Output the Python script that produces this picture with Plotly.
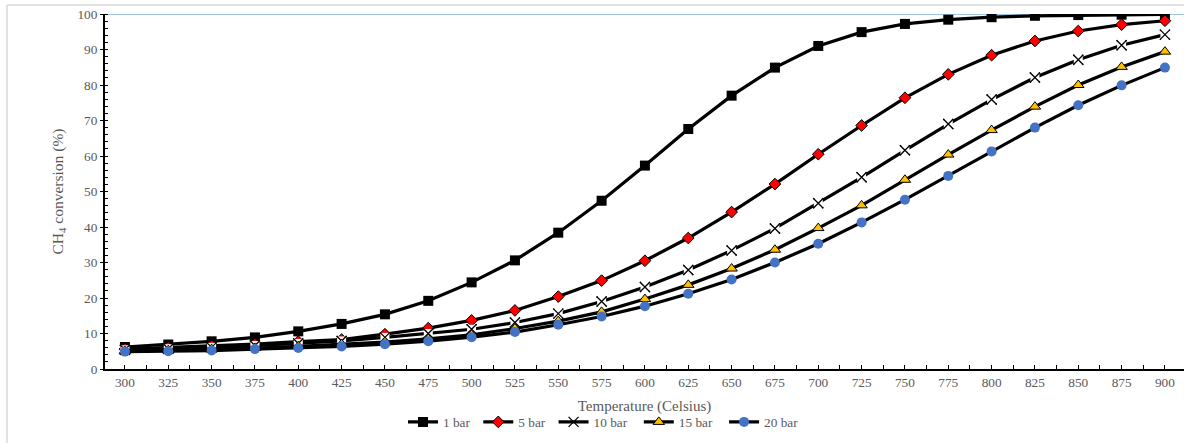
import plotly.graph_objects as go

temps = [300, 325, 350, 375, 400, 425, 450, 475, 500, 525, 550, 575, 600,
         625, 650, 675, 700, 725, 750, 775, 800, 825, 850, 875, 900]

bar1 = [6.2, 6.9, 7.8, 8.9, 10.6, 12.7, 15.4, 19.2, 24.4, 30.6, 38.4, 47.4, 57.3,
        67.6, 77.0, 84.9, 91.0, 94.9, 97.2, 98.4, 99.1, 99.5, 99.7, 99.8, 99.9]
bar5 = [5.6, 6.0, 6.5, 7.0, 7.7, 8.3, 9.8, 11.5, 13.7, 16.5, 20.4, 24.9, 30.5,
        36.9, 44.2, 52.1, 60.5, 68.6, 76.4, 83.0, 88.4, 92.4, 95.2, 97.0, 98.1]
bar10 = [5.4, 5.7, 6.1, 6.6, 7.2, 7.9, 8.9, 10.0, 11.2, 13.1, 15.6, 19.0, 23.1,
         27.9, 33.4, 39.6, 46.7, 54.0, 61.6, 69.0, 75.9, 82.1, 87.1, 91.2, 94.2]
bar15 = [5.1, 5.3, 5.6, 5.9, 6.4, 7.0, 7.6, 8.5, 9.6, 11.4, 13.5, 16.1, 19.7,
         23.7, 28.3, 33.6, 39.7, 46.1, 53.3, 60.4, 67.3, 73.9, 80.0, 85.1, 89.4]
bar20 = [4.9, 5.0, 5.2, 5.6, 5.9, 6.35, 7.0, 7.85, 8.95, 10.4, 12.45, 14.8, 17.7,
         21.2, 25.2, 30.0, 35.3, 41.3, 47.7, 54.4, 61.3, 68.0, 74.3, 79.9, 84.9]

series_names = ["1 bar", "5 bar", "10 bar", "15 bar", "20 bar"]
pad = "\u00a0"

FONT = "Liberation Serif, Times New Roman, serif"
GRAY = "#595959"
LW = 3.2

fig = go.Figure()

fig.add_trace(go.Scatter(x=temps, y=bar1, name=series_names[0] + pad, mode="lines+markers",
                         line=dict(color="black", width=LW),
                         marker=dict(symbol="square", size=10, color="black")))
fig.add_trace(go.Scatter(x=temps, y=bar5, name=series_names[1] + pad, mode="lines+markers",
                         line=dict(color="black", width=LW),
                         marker=dict(symbol="diamond", size=9, color="#FF0000",
                                     line=dict(color="black", width=1))))
fig.add_trace(go.Scatter(x=temps, y=bar10, name=series_names[2] + pad * 2, mode="lines+markers",
                         legendgroup="g10",
                         line=dict(color="black", width=LW),
                         marker=dict(symbol="x-thin", size=10, color="black",
                                     line=dict(color="black", width=1.3))))
# white backing for X markers (breaks the line like the original)
fig.add_trace(go.Scatter(x=temps, y=bar10, mode="markers", showlegend=False,
                         legendgroup="g10", hoverinfo="skip",
                         marker=dict(symbol="square", size=9, color="white")))
fig.add_trace(go.Scatter(x=temps, y=bar10, mode="markers", showlegend=False,
                         legendgroup="g10", hoverinfo="skip",
                         marker=dict(symbol="x-thin", size=10, color="black",
                                     line=dict(color="black", width=1.3))))
fig.add_trace(go.Scatter(x=temps, y=bar15, name=series_names[3] + pad * 2, mode="lines+markers",
                         line=dict(color="black", width=LW),
                         marker=dict(symbol="triangle-up", size=10, color="#FFC000",
                                     line=dict(color="black", width=1))))
fig.add_trace(go.Scatter(x=temps, y=bar20, name=series_names[4], mode="lines+markers",
                         line=dict(color="black", width=LW),
                         marker=dict(symbol="circle", size=10, color="#4472C4")))

fig.update_layout(
    width=1184, height=443,
    margin=dict(l=105, r=0, t=14, b=74),
    paper_bgcolor="white", plot_bgcolor="white",
    font=dict(family=FONT, color=GRAY, size=13),
    showlegend=True,
    legend=dict(orientation="h", x=0.462, xanchor="center", y=-0.15, yanchor="middle",
                font=dict(family=FONT, size=13.3, color=GRAY),
                itemwidth=30, tracegroupgap=0, bgcolor="rgba(0,0,0,0)"),
)

fig.update_xaxes(
    range=[288.5, 911], showgrid=False, zeroline=False,
    showline=True, linecolor="black", linewidth=2,
    tickmode="array", tickvals=temps, ticktext=[str(t) for t in temps],
    ticks="inside", ticklen=4, tickcolor="black", tickwidth=1,
    minor=dict(tickmode="array", tickvals=[t + 12.5 for t in temps[:-1]] + [287.5],
               ticks="inside", ticklen=4, tickcolor="black", tickwidth=1),
    tickfont=dict(family=FONT, size=13.3, color=GRAY),
    title=dict(text="Temperature (Celsius)", font=dict(family=FONT, size=15, color=GRAY),
               standoff=12),
)
fig.update_yaxes(
    range=[0, 100], showgrid=False, zeroline=False,
    showline=True, linecolor="black", linewidth=2,
    tickmode="linear", tick0=0, dtick=10,
    ticks="outside", ticklen=3, tickcolor="black", tickwidth=1,
    minor=dict(dtick=2, ticks="inside", ticklen=3, tickcolor="black", tickwidth=1),
    tickfont=dict(family=FONT, size=13.3, color=GRAY),
    title=dict(text="CH<sub>4</sub> conversion (%)", font=dict(family=FONT, size=15.5, color=GRAY),
               standoff=10),
)

# light blue line at 100 %
fig.add_shape(type="line", xref="paper", yref="y", x0=0, x1=1, y0=100, y1=100,
              line=dict(color="#9DC3E6", width=2), layer="below")
# outer chart frame (partially visible)
fig.add_shape(type="line", xref="paper", yref="paper", x0=-0.0908, x1=1.01, y0=1.0254, y1=1.0254,
              line=dict(color="#D9D9D9", width=1.5))
fig.add_shape(type="line", xref="paper", yref="paper", x0=-0.0908, x1=-0.0908, y0=1.0254, y1=-0.22,
              line=dict(color="#D9D9D9", width=1.5))

fig.write_html("out.html")
